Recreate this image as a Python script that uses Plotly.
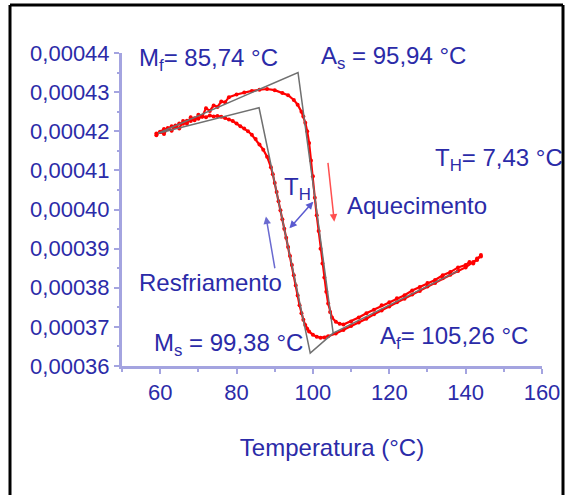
import plotly.graph_objects as go

# ---------------- data ----------------
heat_T = [59, 60, 61, 62, 63, 64, 65, 66, 67, 68, 69, 70, 71, 72, 73, 74, 75, 76, 77, 78,
          80, 82, 84, 86, 88, 90, 92, 93.5, 95, 96, 97, 97.5, 98, 98.5, 99, 99.5, 100,
          100.5, 101, 101.5, 102, 102.5, 103, 103.5, 104, 104.5, 105, 106, 107, 108,
          110, 112, 114, 116, 118, 120, 122, 124, 126, 128, 130, 132, 134, 136, 138,
          140, 141, 142, 143, 144]
heat_V = [0.0004190, 0.0004199, 0.0004193, 0.0004208, 0.0004201, 0.0004215, 0.0004207,
          0.0004226, 0.0004219, 0.0004236, 0.0004228, 0.0004242, 0.0004237, 0.0004259,
          0.0004252, 0.0004266, 0.0004262, 0.0004276, 0.0004274, 0.0004287,
          0.0004294, 0.0004299, 0.0004303, 0.0004306, 0.0004308, 0.0004305, 0.0004298,
          0.0004292, 0.0004280, 0.0004268, 0.0004250, 0.0004238, 0.0004222, 0.0004200,
          0.0004170, 0.0004125, 0.0004085, 0.0004030, 0.0003985, 0.0003945, 0.0003900,
          0.0003862, 0.0003826, 0.0003790, 0.0003760, 0.0003738, 0.0003724, 0.0003713,
          0.0003708, 0.0003706, 0.0003714, 0.0003724, 0.0003735, 0.0003744, 0.0003755,
          0.0003763, 0.0003773, 0.0003781, 0.0003793, 0.0003802, 0.0003812, 0.0003820,
          0.0003832, 0.0003840, 0.0003852, 0.0003858, 0.0003866, 0.0003862, 0.0003875,
          0.0003880]

cool_T = [144, 143, 142, 140, 138, 136, 134, 132, 130, 128, 126, 124, 122, 120, 118, 116,
          114, 112, 110, 108, 106, 104, 103, 102, 101, 100, 99, 98.5, 98, 97.5, 97, 96.5,
          96, 95.5, 95, 94.5, 94, 93.5, 93, 92.5, 92, 91.5, 91, 90.5, 90, 89.5, 89, 88,
          87, 86, 85, 84, 83, 82, 81, 80, 79, 78, 77, 76, 75, 74, 73, 72, 71, 70, 69, 68,
          67, 66, 65, 64, 63, 62, 61, 60, 59]
cool_V = [0.0003884, 0.0003871, 0.0003866, 0.0003852, 0.0003843, 0.0003833, 0.0003824,
          0.0003812, 0.0003803, 0.0003792, 0.0003783, 0.0003772, 0.0003763, 0.0003752,
          0.0003742, 0.0003732, 0.0003721, 0.0003711, 0.0003702, 0.0003692, 0.0003683,
          0.0003676, 0.0003673, 0.0003672, 0.0003675, 0.0003680, 0.0003688, 0.0003695,
          0.0003705, 0.0003718, 0.0003735, 0.0003755, 0.0003780, 0.0003806, 0.0003832,
          0.0003858, 0.0003881, 0.0003904, 0.0003928, 0.0003951, 0.0003975, 0.0003998,
          0.0004021, 0.0004045, 0.0004068, 0.0004090, 0.0004108, 0.0004135, 0.0004153,
          0.0004166, 0.0004180, 0.0004191, 0.0004200, 0.0004207, 0.0004213, 0.0004220,
          0.0004226, 0.0004230, 0.0004234, 0.0004237, 0.0004239, 0.0004238, 0.0004240,
          0.0004236, 0.0004238, 0.0004232, 0.0004233, 0.0004226, 0.0004227, 0.0004219,
          0.0004220, 0.0004211, 0.0004213, 0.0004205, 0.0004206, 0.0004198, 0.0004194]

# construction (tangent) lines
heat_tan_T = [59.5, 96.1, 105.3, 138.0]
heat_tan_V = [0.0004195, 0.0004350, 0.0003684, 0.0003843]
cool_tan_T = [59.5, 85.9, 99.3, 105.3]
cool_tan_V = [0.0004195, 0.0004260, 0.0003633, 0.0003684]

x_ticks = [60, 80, 100, 120, 140, 160]
y_ticks = [0.00036, 0.00037, 0.00038, 0.00039, 0.00040, 0.00041, 0.00042, 0.00043, 0.00044]

# ---------------- style ----------------
FONT = "'Liberation Sans', Arial, sans-serif"
TXT = "#2b2ba8"
AXC = "#a4a4e0"
RED = "#ff0000"

W, H = 571, 495
L, R, T, B = 122, 29, 53, 129
PW, PH = W - L - R, H - T - B


def pp(px, py):
    return (px - L) / PW, (H - B - py) / PH


fig = go.Figure()
fig.add_trace(go.Scatter(x=heat_T, y=heat_V, mode="lines+markers",
                         line=dict(color=RED, width=2.2), marker=dict(color=RED, size=4),
                         showlegend=False))
fig.add_trace(go.Scatter(x=cool_T, y=cool_V, mode="lines+markers",
                         line=dict(color=RED, width=2.2), marker=dict(color=RED, size=4),
                         showlegend=False))
fig.add_trace(go.Scatter(x=heat_tan_T, y=heat_tan_V, mode="lines",
                         line=dict(color="#707070", width=1.5), showlegend=False))
fig.add_trace(go.Scatter(x=cool_tan_T, y=cool_tan_V, mode="lines",
                         line=dict(color="#707070", width=1.5), showlegend=False))

anns = []


def label(text, px, py, size=24):
    x, y = pp(px, py)
    anns.append(dict(text=text, x=x, y=y, xref="paper", yref="paper", xanchor="left",
                     yanchor="middle", showarrow=False,
                     font=dict(family=FONT, size=size, color=TXT)))


label("M<sub>f</sub>= 85,74 °C", 137, 60)
label("A<sub>s</sub> = 95,94 °C", 319, 58)
label("T<sub>H</sub>= 7,43 °C", 433, 159)
label("T<sub>H</sub>", 282, 188)
label("Aquecimento", 345, 205)
label("Resfriamento", 137, 282)
label("M<sub>s</sub> = 99,38 °C", 152, 344)
label("A<sub>f</sub>= 105,26 °C", 378, 337)

# arrows
anns.append(dict(x=87.7, y=0.0003982, ax=90.1, ay=0.0003846, xref="x", yref="y",
                 axref="x", ayref="y", showarrow=True, arrowhead=2, arrowsize=1,
                 arrowwidth=1.5, arrowcolor="#6a6ad0", text=""))
anns.append(dict(x=105.6, y=0.0003969, ax=103.9, ay=0.0004123, xref="x", yref="y",
                 axref="x", ayref="y", showarrow=True, arrowhead=2, arrowsize=1,
                 arrowwidth=1.5, arrowcolor="#ff5050", text=""))
anns.append(dict(x=100.1, y=0.0004020, ax=93.5, ay=0.0003948, xref="x", yref="y",
                 axref="x", ayref="y", showarrow=True, arrowhead=2, arrowside="end+start",
                 arrowsize=1, arrowwidth=1.5, arrowcolor="#5a5ad0", text=""))

# frame lines around the picture
fx0, fy0 = pp(10, 5)
fx1, fy1 = pp(563, 495)
shapes = [
    dict(type="line", xref="paper", yref="paper", x0=fx0, y0=fy0, x1=fx1, y1=fy0,
         line=dict(color="black", width=3)),
    dict(type="line", xref="paper", yref="paper", x0=fx0, y0=fy0, x1=fx0, y1=fy1,
         line=dict(color="black", width=3)),
    dict(type="line", xref="paper", yref="paper", x0=fx1, y0=fy0, x1=fx1, y1=fy1,
         line=dict(color="black", width=3)),
]

fig.update_layout(
    width=W, height=H, margin=dict(l=L, r=R, t=T, b=B, pad=0, autoexpand=False),
    paper_bgcolor="white", plot_bgcolor="white",
    separators=",.",
    annotations=anns, shapes=shapes,
    font=dict(family=FONT, color=TXT),
    xaxis=dict(range=[50, 160], tickvals=x_ticks, ticks="outside", ticklen=5, tickwidth=2,
               tickcolor=AXC, showline=True, linecolor=AXC, linewidth=3, showgrid=False,
               zeroline=False, automargin=False,
               tickfont=dict(family=FONT, size=22, color=TXT),
               minor=dict(dtick=10, tick0=50, ticks="outside", ticklen=3, tickwidth=2,
                          tickcolor=AXC, showgrid=False),
               title=dict(text="Temperatura (°C)", font=dict(family=FONT, size=24, color=TXT),
                          standoff=35)),
    yaxis=dict(range=[0.00036, 0.00044], tickvals=y_ticks, tickformat=".5f",
               ticks="outside", ticklen=5, tickwidth=2, tickcolor=AXC, showline=True,
               linecolor=AXC, linewidth=3, showgrid=False, zeroline=False, automargin=False,
               tickfont=dict(family=FONT, size=22, color=TXT),
               minor=dict(dtick=0.000005, ticks="outside", ticklen=2, tickwidth=2,
                          tickcolor=AXC, showgrid=False)),
)

fig.write_html("out.html", config={"displayModeBar": False},
               post_script="document.body.style.margin='0';")
